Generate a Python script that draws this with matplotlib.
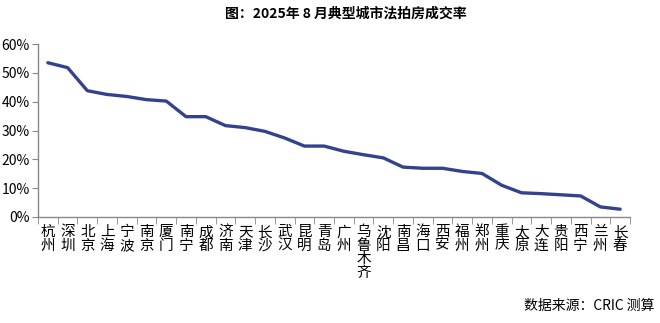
import matplotlib
matplotlib.use("Agg")
import matplotlib.pyplot as plt
import numpy as np
from matplotlib.ticker import PercentFormatter, FixedLocator

plt.rcParams['font.family'] = ['Noto Sans CJK SC', 'DejaVu Sans']

cities = ["杭州", "深圳", "北京", "上海", "宁波", "南京", "厦门", "南宁", "成都", "济南",
          "天津", "长沙", "武汉", "昆明", "青岛", "广州", "乌鲁木齐", "沈阳", "南昌", "海口",
          "西安", "福州", "郑州", "重庆", "太原", "大连", "贵阳", "西宁", "兰州", "长春"]
rates = [53.5, 51.8, 43.8, 42.5, 41.8, 40.7, 40.2, 34.8, 34.8, 31.7,
         31.0, 29.7, 27.4, 24.6, 24.6, 22.8, 21.6, 20.5, 17.3, 16.9,
         16.9, 15.8, 15.1, 11.0, 8.4, 8.1, 7.7, 7.3, 3.5, 2.7]

title = "图：2025年 8 月典型城市法拍房成交率"
source = "数据来源：CRIC 测算"

fig = plt.figure(figsize=(6.6, 3.23), dpi=100)
ax = fig.add_axes([38 / 660, 1 - 217 / 323, (630 - 38) / 660, (217 - 44) / 323])

x = np.arange(len(cities))
ax.plot(x, rates, color="#33428F", linewidth=2.4, solid_capstyle="round")

ax.set_xlim(-0.5, len(cities) - 0.5)
ax.set_ylim(0, 60)
ax.set_yticks(np.arange(0, 61, 10))
ax.yaxis.set_major_formatter(PercentFormatter(decimals=0))

ax.set_xticks(x)
ax.set_xticklabels(["\n".join(c) for c in cities], fontsize=10.5, linespacing=0.95,
                   va="top")
ax.tick_params(axis="x", which="major", length=0, pad=6)
ax.xaxis.set_minor_locator(FixedLocator(np.arange(-0.5, len(cities), 1)))
ax.tick_params(axis="x", which="minor", length=5, color="#888888", direction="out")
ax.tick_params(axis="y", length=4, color="#888888", labelsize=10, pad=2)

for side in ["top", "right"]:
    ax.spines[side].set_visible(False)
for side in ["left", "bottom"]:
    ax.spines[side].set_color("#888888")
    ax.spines[side].set_linewidth(1)

fig.text(346 / 660, 1 - 14 / 323, title, ha="center", va="center",
         fontsize=10, fontweight="bold")
fig.text(655 / 660, 1 - 306 / 323, source, ha="right", va="center", fontsize=10)

fig.savefig("out.png", dpi=100)
